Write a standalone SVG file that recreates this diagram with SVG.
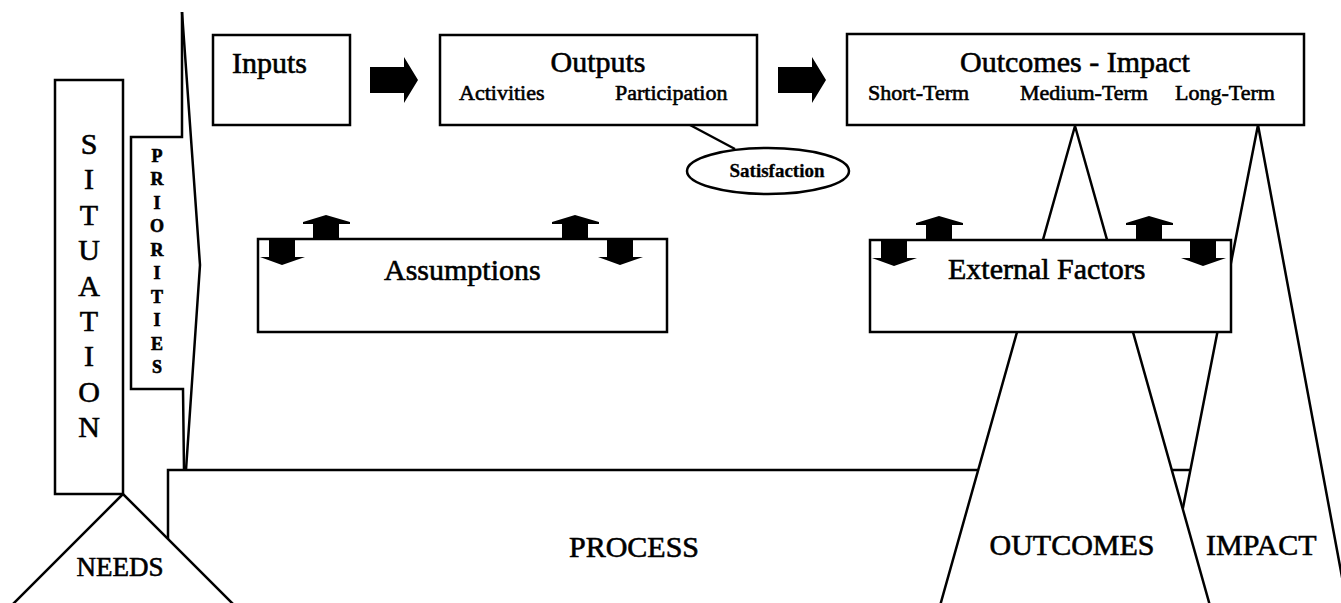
<svg xmlns="http://www.w3.org/2000/svg" width="1341" height="603" viewBox="0 0 1341 603">
<style>
.box{fill:#fff;stroke:#000;stroke-width:2.5}
.ln{fill:none;stroke:#000;stroke-width:2.5;stroke-linejoin:miter}
.blk{fill:#000;stroke:none}
text{font-family:"Liberation Serif","Times New Roman",serif;fill:#000;stroke:#000;stroke-width:0.6}
.big{font-size:30px}
.sub{font-size:22px}
.vert{font-size:30px;text-anchor:middle}
.pri{font-size:18px;font-weight:bold;text-anchor:middle}
.mid{text-anchor:middle}
</style>
<defs>
<polygon id="up" points="-13,17 -13,2 -23,2 -23,0 0,-7 24,0 24,2 13,2 13,17"/>
<polygon id="down" points="-13,-18 -13,0 -22,0 0,8 23,0 13,0 13,-18"/>
</defs>
<rect width="1341" height="603" fill="#fff"/>

<g id="process">
<rect class="box" x="168" y="470" width="1032" height="200"/>
<text class="big mid" x="634" y="557">PROCESS</text>
</g>

<g id="needs">
<polygon class="box" points="123,494 -10,627 256,627"/>
<text class="mid" x="120" y="576" style="font-size:27px">NEEDS</text>
</g>

<g id="situation">
<rect class="box" x="55" y="80" width="68" height="414"/>
<text class="vert" x="89" y="154">S</text>
<text class="vert" x="89" y="189">I</text>
<text class="vert" x="89" y="225">T</text>
<text class="vert" x="89" y="260">U</text>
<text class="vert" x="89" y="296">A</text>
<text class="vert" x="89" y="331">T</text>
<text class="vert" x="89" y="366">I</text>
<text class="vert" x="89" y="402">O</text>
<text class="vert" x="89" y="437">N</text>
</g>

<g id="priorities">
<polyline class="ln" points="182,12 182,137 131,137 131,389 183,389 184,470"/>
<polyline class="ln" points="182,12 200,265 186,470"/>
<text class="pri" x="157" y="162">P</text>
<text class="pri" x="157" y="185">R</text>
<text class="pri" x="157" y="209">I</text>
<text class="pri" x="157" y="232">O</text>
<text class="pri" x="157" y="256">R</text>
<text class="pri" x="157" y="279">I</text>
<text class="pri" x="157" y="303">T</text>
<text class="pri" x="157" y="326">I</text>
<text class="pri" x="157" y="350">E</text>
<text class="pri" x="157" y="373">S</text>
</g>

<g id="impact">
<polygon class="box" points="1258,125 1161,620 1350,620"/>
<text class="big" x="1206" y="555">IMPACT</text>
</g>

<g id="outcomes">
<polygon class="box" points="1075,126 936,620 1214,620"/>
<text class="big mid" x="1072" y="555">OUTCOMES</text>
</g>

<g id="assumptions">
<rect class="box" x="258" y="239" width="409" height="93"/>
<text class="big" x="384" y="280">Assumptions</text>
<use href="#down" class="blk" x="282" y="257"/>
<use href="#up" class="blk" x="326" y="222"/>
<use href="#up" class="blk" x="575" y="222"/>
<use href="#down" class="blk" x="620" y="257"/>
</g>

<g id="external-factors">
<rect class="box" x="870" y="240" width="361" height="92"/>
<text class="big" x="948" y="279">External Factors</text>
<use href="#down" class="blk" x="894" y="258"/>
<use href="#up" class="blk" x="939" y="223"/>
<use href="#up" class="blk" x="1149" y="223"/>
<use href="#down" class="blk" x="1203" y="258"/>
</g>

<g id="inputs">
<rect class="box" x="213" y="35" width="137" height="90"/>
<text class="big" x="232" y="73">Inputs</text>
</g>

<g id="outputs">
<rect class="box" x="440" y="35" width="317" height="90"/>
<text class="big mid" x="598" y="72">Outputs</text>
<text class="sub" x="459" y="100">Activities</text>
<text class="sub" x="615" y="100">Participation</text>
</g>

<g id="outcomes-impact">
<rect class="box" x="847" y="34" width="457" height="91"/>
<text class="big mid" x="1075" y="72">Outcomes - Impact</text>
<text class="sub" x="868" y="100">Short-Term</text>
<text class="sub" x="1020" y="100">Medium-Term</text>
<text class="sub" x="1175" y="100">Long-Term</text>
</g>

<g id="satisfaction">
<ellipse class="box" cx="768" cy="171" rx="81" ry="23"/>
<text class="mid" x="777" y="177" style="font-size:19px;font-weight:bold;stroke-width:0.3">Satisfaction</text>
</g>

<g id="connectors">
<polygon class="blk" points="370,67 404,67 404,57 418,80 404,103 404,93 370,93"/>
<polygon class="blk" points="778,67 812,67 812,57 826,80 812,103 812,93 778,93"/>
<line class="ln" x1="690" y1="125" x2="735" y2="149"/>
</g>
</svg>
